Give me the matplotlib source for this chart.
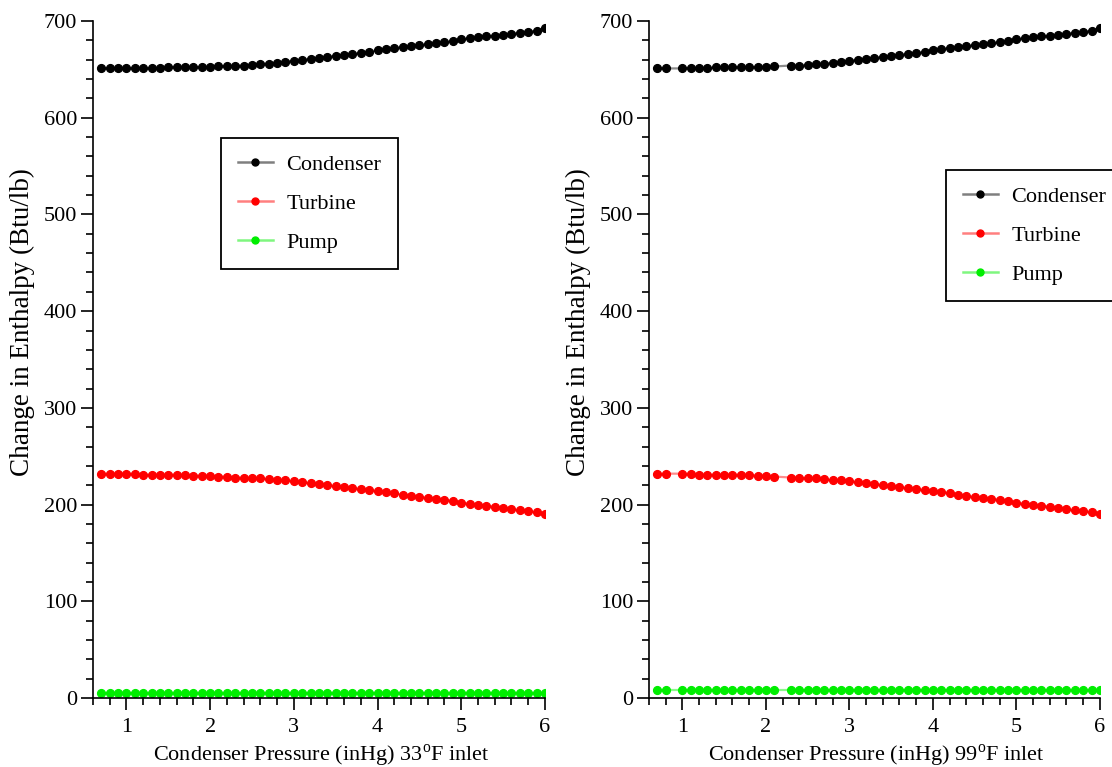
import matplotlib
matplotlib.use("Agg")
import matplotlib.pyplot as plt
import matplotlib.colors as mcolors
from matplotlib.ticker import MultipleLocator

plt.rcParams['font.family'] = 'Liberation Serif'
plt.rcParams['mathtext.fontset'] = 'custom'
plt.rcParams['mathtext.rm'] = 'Liberation Serif'

# Condenser pressure (inHg) - 33 F inlet case
presion_33 = [0.7, 0.8, 0.9, 1.0, 1.1, 1.2, 1.3, 1.4, 1.5, 1.6, 1.7, 1.8, 1.9, 2.0,
              2.1, 2.2, 2.3, 2.4, 2.5, 2.6, 2.7, 2.8, 2.9, 3.0, 3.1, 3.2, 3.3, 3.4,
              3.5, 3.6, 3.7, 3.8, 3.9, 4.0, 4.1, 4.2, 4.3, 4.4, 4.5, 4.6, 4.7, 4.8,
              4.9, 5.0, 5.1, 5.2, 5.3, 5.4, 5.5, 5.6, 5.7, 5.8, 5.9, 6.0]
condensador_33 = [651, 651, 651, 651, 651, 651, 651, 651, 652, 652, 652, 652, 652, 652,
                  653, 653, 654, 654, 655, 656, 656, 657, 658, 659, 660, 661, 662, 663,
                  664, 665, 666, 667, 668, 670, 671, 672, 673, 674, 675, 676, 677, 678,
                  679, 681, 682, 683, 684, 685, 686, 687, 688, 689, 690, 693]
turbina_33 = [232, 232, 232, 232, 232, 231, 231, 231, 231, 231, 231, 230, 230, 230,
              229, 229, 228, 228, 227, 227, 226, 225, 225, 224, 223, 222, 221, 220,
              219, 218, 217, 216, 215, 214, 213, 212, 210, 209, 208, 207, 206, 205,
              204, 202, 201, 200, 199, 198, 197, 195, 194, 193, 192, 190]
bomba_33 = [5] * 54

# Condenser pressure (inHg) - 99 F inlet case (no points at 0.9 and 2.2)
presion_99 = [0.7, 0.8, 1.0, 1.1, 1.2, 1.3, 1.4, 1.5, 1.6, 1.7, 1.8, 1.9, 2.0,
              2.1, 2.3, 2.4, 2.5, 2.6, 2.7, 2.8, 2.9, 3.0, 3.1, 3.2, 3.3, 3.4,
              3.5, 3.6, 3.7, 3.8, 3.9, 4.0, 4.1, 4.2, 4.3, 4.4, 4.5, 4.6, 4.7, 4.8,
              4.9, 5.0, 5.1, 5.2, 5.3, 5.4, 5.5, 5.6, 5.7, 5.8, 5.9, 6.0]
condensador_99 = [651, 651, 651, 651, 651, 651, 652, 652, 652, 652, 652, 652, 652,
                  653, 654, 654, 655, 656, 656, 657, 658, 659, 660, 661, 662, 663,
                  664, 665, 666, 667, 668, 670, 671, 672, 673, 674, 675, 676, 677, 678,
                  679, 681, 682, 683, 684, 685, 686, 687, 688, 689, 690, 693]
turbina_99 = [232, 232, 232, 232, 231, 231, 231, 231, 231, 231, 231, 230, 230,
              229, 228, 228, 227, 227, 226, 225, 225, 224, 223, 222, 221, 220,
              219, 218, 217, 216, 215, 214, 213, 212, 210, 209, 208, 207, 206, 205,
              204, 202, 201, 200, 199, 198, 197, 195, 194, 193, 192, 190]
bomba_99 = [8] * 52

etiquetas = ['Condenser', 'Turbine', 'Pump']
colores = ['#000000', '#ff0000', '#00ee00']

fig = plt.figure(figsize=(11.12, 7.67), dpi=100)
ax1 = fig.add_axes([0.0836, 0.0899, 0.4064, 0.8827])
ax2 = fig.add_axes([0.5836, 0.0899, 0.4055, 0.8827])

paneles = [
    (ax1, presion_33, [condensador_33, turbina_33, bomba_33], '33', (221 / 1112, 1 - 138 / 767)),
    (ax2, presion_99, [condensador_99, turbina_99, bomba_99], '99', (946 / 1112, 1 - 170 / 767)),
]

for ax, x, series, temp, pos_leyenda in paneles:
    for y, lab, c in zip(series, etiquetas, colores):
        ax.plot(x, y, color=c, lw=1.6, alpha=0.45)
        ax.plot(x, y, ls='none', marker='o', ms=5.6, color=c, mec=c)

    # legend entries: faded line with a solid marker in the middle
    leg_handles = [plt.Line2D([], [], color=mcolors.to_rgba(c, 0.5), lw=1.8, marker='o', ms=5.0,
                              mfc=c, mec=c) for c in colores]
    leg = ax.legend(leg_handles, etiquetas, loc='upper left', bbox_to_anchor=pos_leyenda,
                    bbox_transform=fig.transFigure, fontsize=16, frameon=True, fancybox=False,
                    edgecolor='black', framealpha=1, handlelength=1.6, handletextpad=0.6,
                    labelspacing=0.82, borderpad=0.75, borderaxespad=0, numpoints=1)
    leg.get_frame().set_linewidth(1.3)

    ax.set_xlim(0.6, 6.0)
    ax.set_ylim(0, 700)
    ax.xaxis.set_major_locator(MultipleLocator(1))
    ax.xaxis.set_minor_locator(MultipleLocator(0.2))
    ax.yaxis.set_major_locator(MultipleLocator(100))
    ax.yaxis.set_minor_locator(MultipleLocator(20))
    ax.spines['top'].set_visible(False)
    ax.spines['right'].set_visible(False)
    for s in ['left', 'bottom']:
        ax.spines[s].set_linewidth(1.2)
    ax.tick_params(which='major', direction='out', length=8.5, width=1.2, labelsize=16, pad=3)
    ax.tick_params(axis='x', which='major', pad=6)
    ax.tick_params(which='minor', direction='out', length=5, width=1.2)
    ax.set_ylabel('Change in Enthalpy (Btu/lb)', fontsize=19.5)
    ax.yaxis.set_label_coords(-0.128, 0.555)
    ax.set_xlabel('Condenser Pressure (inHg) ' + temp + r'$^{\mathrm{o}}$F inlet', fontsize=16)
    ax.xaxis.set_label_coords(0.505, -0.066)

fig.savefig('out.png', dpi=100)
